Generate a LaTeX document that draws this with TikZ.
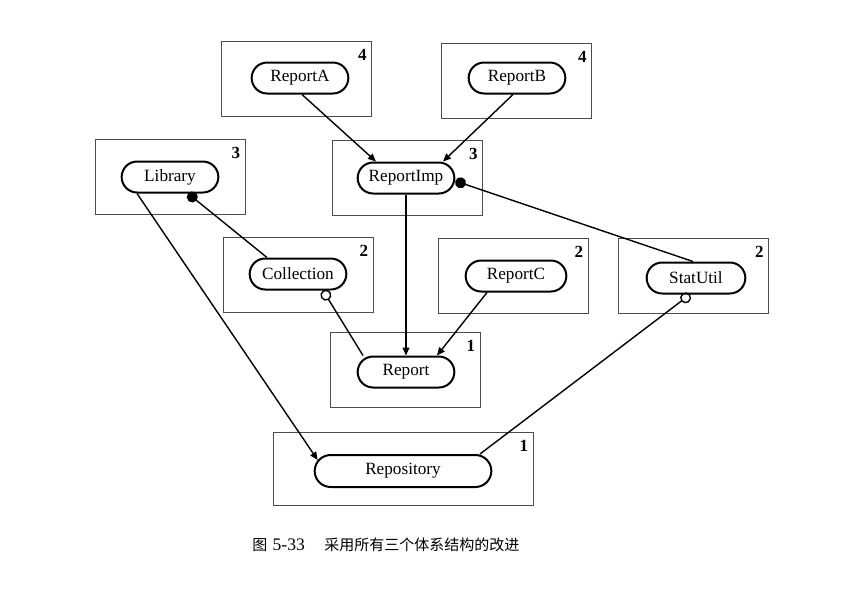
\documentclass[tikz,border=0pt]{standalone}
\usepackage{fontspec}
\setmainfont{Liberation Serif}
\newfontfamily\cjk{Noto Sans CJK SC}
\usetikzlibrary{arrows.meta,calc,shapes.misc}
\tikzset{
  layer/.style={
    draw=black!70,
    line width=0.5pt,
    minimum width=75pt,
    minimum height=37.5pt,
    inner sep=0pt},
  comp/.style={
    draw,
    rounded rectangle,
    line width=1pt,
    fill=white,
    minimum width=55pt,
    minimum height=15.5pt,
    font=\fontsize{8.6}{10}\selectfont},
  lvl/.style={
    anchor=north east,
    inner xsep=2.5pt,
    inner ysep=4pt,
    font=\bfseries\fontsize{8.5}{10}\selectfont},
  dep/.style={line width=0.7pt, -{Triangle[length=4pt,width=3.4pt]}},
  uses/.style={line width=0.7pt, -{Circle[length=5.5pt]}},
  needs/.style={line width=0.7pt, {Circle[open,length=5.5pt]}-}
  }
\begin{document}
\begin{tikzpicture}[x=0.5pt,y=-0.5pt]
      \useasboundingbox (0,0) rectangle (868,590);
      % layer boxes
      \node[layer] (ba) at (296.5,79) {};
      \node[layer] (bb) at (516.5,80.5) {};
      \node[layer] (bl) at (170,176.5) {};
      \node[layer] (bi) at (407.5,178) {};
      \node[layer] (bc) at (298,274.5) {};
      \node[layer] (bk) at (513,275.5) {};
      \node[layer] (bs) at (693.5,276) {};
      \node[layer] (br) at (405,370) {};
      \node[layer, minimum width=130pt, minimum height=36.5pt] (bp) at (403,468.5) {};
      \node[lvl] (na) at (ba.north east) {4};
      \node[lvl] (nb) at (bb.north east) {4};
      \node[lvl] (nl) at (bl.north east) {3};
      \node[lvl] (ni) at (bi.north east) {3};
      \node[lvl] (nc) at (bc.north east) {2};
      \node[lvl] (nk) at (bk.north east) {2};
      \node[lvl] (ns) at (bs.north east) {2};
      \node[lvl] (nr) at (br.north east) {1};
      \node[lvl] (np) at (bp.north east) {1};
      % components
      \node[comp] (pa) at (300,78) {ReportA};
      \node[comp] (pb) at (517,78) {ReportB};
      \node[comp] (pl) at (170,177) {Library};
      \node[comp] (pi) at (406,178) {ReportImp};
      \node[comp] (pc) at (298,274) {Collection};
      \node[comp, minimum width=57pt] (pk) at (516,276) {ReportC};
      \node[comp, minimum width=56pt] (ps) at (696,278) {StatUtil};
      \node[comp] (pr) at (406,372) {Report};
      \node[comp, minimum width=95pt, minimum height=16pt] (pp) at (403,471) {Repository};
      % connectors
      \draw[dep] ($(pa.south)+(2,0)$) -- ($(pi.north)+(-30,0)$);
      \draw[dep] ($(pb.south)+(-4,0)$) -- ($(pi.north)+(37,0)$);
      \draw[dep] (pi.south) -- (pr.north);
      \draw[dep] ($(pl.south)+(-33,0)$) -- ($(pp.west)+(4,-11)$);
      \draw[uses] ($(pc.north)+(-31,0)$) -- ($(pl.south)+(18,0)$);
      \draw[needs] ($(pc.south)+(25,0)$) -- ($(pr.north)+(-43,0)$);
      \draw[dep] ($(pk.south)+(-29,0)$) -- ($(pr.north)+(31,0)$);
      \draw[uses] ($(ps.north)+(-3,0)$) -- ($(pi.east)+(0,3)$);
      \draw[needs] ($(ps.south)+(-6,0)$) -- ($(pp.north)+(77,0)$);
      % caption
      \node[anchor=west, inner sep=0pt, font=\cjk\fontsize{7.5}{9}\selectfont] (cap) at (252,545)
        {图\hspace{0.35em}{\rmfamily\fontsize{8.8}{10}\selectfont 5-33}\hspace{1.3em}采用所有三个体系结构的改进};
    \end{tikzpicture}
\end{document}
